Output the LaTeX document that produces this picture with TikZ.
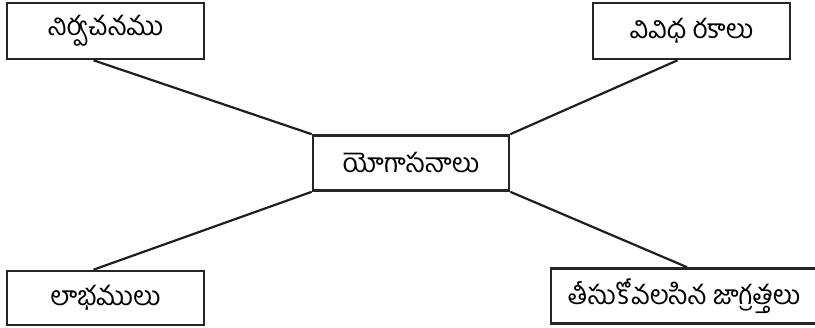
\documentclass[tikz,border=0pt]{standalone}
\usepackage{fontspec}
\newfontfamily\telugu[Script=Telugu]{Hind Guntur}
\usetikzlibrary{calc}
\begin{document}
\begin{tikzpicture}[x=1pt,y=-1pt,
  box/.style={draw=black!85, line width=2.6pt, rectangle, inner sep=0pt,
    font=\telugu\fontsize{26.5}{30}\selectfont},
  link/.style={draw=black!88, line width=2.2pt}]
\useasboundingbox (0,0) rectangle (815,328);
\node[box, minimum width=197pt, minimum height=56pt] (a) at (105.5,31) {నిర్వచనము};
\node[box, minimum width=197pt, minimum height=56pt] (b) at (691.5,31) {వివిధ రకాలు};
\node[box, minimum width=196pt, minimum height=55pt] (c) at (411,163) {యోగాసనాలు};
\node[box, minimum width=197pt, minimum height=54pt] (d) at (105.5,298) {లాభములు};
\node[box, minimum width=266pt, minimum height=55pt] (e) at (684,296) {తీసుకోవలసిన జాగ్రత్తలు};
\coordinate (a1) at ($(a.south)+(-12,0)$);
\coordinate (b1) at ($(b.south)+(-14,0)$);
\coordinate (d1) at ($(d.north)+(-12,0)$);
\coordinate (e1) at ($(e.north)+(3,0)$);
\draw[link] (a1) -- (c.north west);
\draw[link] (b1) -- (c.north east);
\draw[link] (d1) -- (c.south west);
\draw[link] (e1) -- (c.south east);
\end{tikzpicture}
\end{document}
